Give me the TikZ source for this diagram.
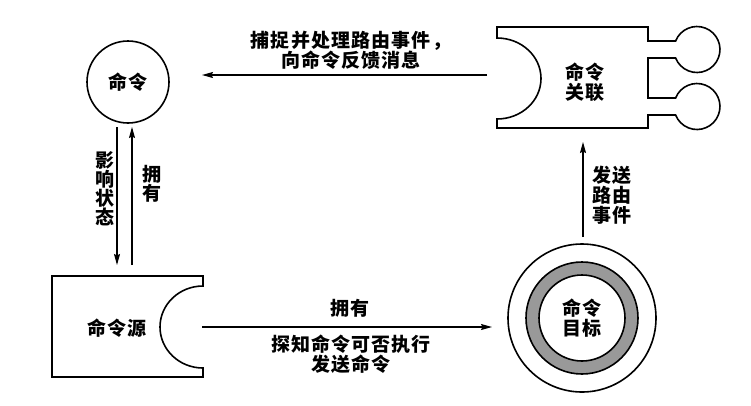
\documentclass[tikz,border=0pt]{standalone}
\usepackage{fontspec}
\setmainfont{Noto Sans CJK SC}
\newfontfamily\cjkbold{Noto Sans CJK SC}[LetterSpace=6]
\usetikzlibrary{arrows.meta}
\tikzset{
  shapeline/.style={line width=1.6pt, line join=miter},
  conn/.style={line width=1.1pt, -{Stealth[length=11pt,width=6pt,inset=1.5pt]}},
  lbl/.style={font=\cjkbold\bfseries\fontsize{19}{20}\selectfont, align=center, inner sep=0pt},
  vlbl/.style={font=\cjkbold\bfseries\fontsize{19}{19}\selectfont, align=center, inner sep=0pt},
}
\begin{document}
\begin{tikzpicture}[x=1pt,y=1pt]
\useasboundingbox (0,0) rectangle (751,-405);
\fill[white] (0,0) rectangle (751,-405);

% command circle
\node[draw, circle, shapeline, minimum size=82pt, inner sep=0pt, lbl] (cmd) at (128,-82) {命令};

% command binding
\draw[shapeline] (497,-27) -- (648,-27) -- (648,-41) -- (675.6,-41)
  arc[start angle=158.3, end angle=-158.3, radius=23] -- (648,-58) -- (648,-98) -- (675.6,-98)
  arc[start angle=158.3, end angle=-158.3, radius=23] -- (648,-115) -- (648,-128) -- (497,-128) -- (497,-119)
  arc[start angle=-90, end angle=90, x radius=44, y radius=40.5] -- cycle;
\node[lbl] (bind) at (585,-82) {命令\\关联};

% command source
\draw[shapeline] (52,-276) -- (203,-276) -- (203,-286)
  arc[start angle=90, end angle=270, x radius=43, y radius=41] -- (203,-377) -- (52,-377) -- cycle;
\node[lbl] (src) at (117,-328) {命令源};

% command target
\fill[black!40, even odd rule] (582,-318) circle (56) (582,-318) circle (43);
\node[draw, circle, shapeline, minimum size=86pt, inner sep=0pt, lbl] (tgt) at (582,-318) {命令\\目标};
\draw[shapeline] (tgt.center) circle (56);
\draw[shapeline] (tgt.center) circle (74);

% connector end points
\coordinate (b1) at (487,-75);
\coordinate (c1) at (202,-75);
\coordinate (c2) at (117,-127);
\coordinate (s2) at (117,-265);
\coordinate (s3) at (132,-265);
\coordinate (c3) at (132,-127);
\coordinate (s4) at (202,-327);
\coordinate (t4) at (492,-327);
\coordinate (t5) at (583,-237);
\coordinate (b5) at (583,-142);

\draw[conn] (b1) -- (c1);
\draw[conn] (c2) -- (s2);
\draw[conn] (s3) -- (c3);
\draw[conn] (s4) -- (t4);
\draw[conn] (t5) -- (b5);

% labels
\node[lbl] (l1) at (351,-50) {捕捉并处理路由事件，\\向命令反馈消息};
\node[vlbl] (l2) at (105,-189) {影\\响\\状\\态};
\node[vlbl] (l3) at (152,-184) {拥\\有};
\node[lbl] (l4) at (350,-308) {拥有};
\node[lbl] (l5) at (351,-354) {探知命令可否执行\\发送命令};
\node[lbl] (l6) at (612,-195) {发送\\路由\\事件};
\end{tikzpicture}
\end{document}
